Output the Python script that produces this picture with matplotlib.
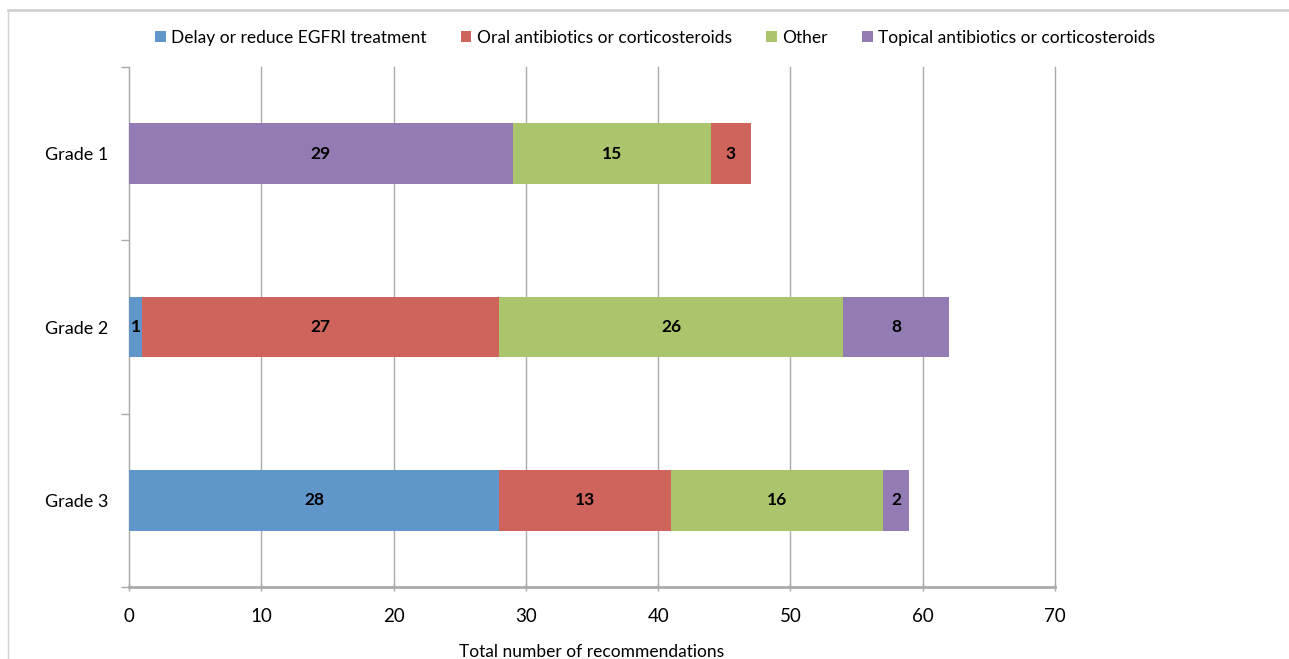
import matplotlib
matplotlib.use("Agg")
import matplotlib.pyplot as plt
from matplotlib.lines import Line2D
from matplotlib.patches import Patch

plt.rcParams['font.family'] = ['Lato', 'DejaVu Sans']

grades = ["Grade 1", "Grade 2", "Grade 3"]
series = ["Delay or reduce EGFRI treatment",
          "Oral antibiotics or corticosteroids",
          "Other",
          "Topical antibiotics or corticosteroids"]
values = {
    "Delay or reduce EGFRI treatment": [0, 1, 28],
    "Oral antibiotics or corticosteroids": [3, 27, 13],
    "Other": [15, 26, 16],
    "Topical antibiotics or corticosteroids": [29, 8, 2],
}
# stacking order of the segments within each bar
stack_order = [
    ["Topical antibiotics or corticosteroids", "Other", "Oral antibiotics or corticosteroids",
     "Delay or reduce EGFRI treatment"],
    series,
    series,
]
colors = {
    "Delay or reduce EGFRI treatment": "#6096CA",
    "Oral antibiotics or corticosteroids": "#CF645C",
    "Other": "#ABC56C",
    "Topical antibiotics or corticosteroids": "#937CB4",
}
xticks = [0, 10, 20, 30, 40, 50, 60, 70]

fig = plt.figure(figsize=(12.89, 6.59), dpi=100)
ax = fig.add_axes([129 / 1289, 1 - 587 / 659, (1055 - 129) / 1289, (587 - 67) / 659])

ypos = [2, 1, 0]
bar_h = 0.35
for gi, g in enumerate(grades):
    left = 0
    for s in stack_order[gi]:
        v = values[s][gi]
        if v == 0:
            continue
        ax.barh(ypos[gi], v, left=left, height=bar_h, color=colors[s], zorder=3)
        ax.text(left + v / 2, ypos[gi], str(v), ha="center", va="center",
                fontsize=12.5, fontweight="bold", color="black", zorder=4)
        left += v

ax.set_xlim(0, 70)
ax.set_ylim(-0.5, 2.5)
ax.set_xticks(xticks)
ax.set_xticklabels([str(t) for t in xticks], fontsize=13.5)
ax.set_yticks([-0.5, 0.5, 1.5, 2.5], minor=False)
ax.set_yticklabels([])
ax.set_yticks(ypos, minor=True)
ax.set_yticklabels(grades, minor=True, fontsize=13)
ax.tick_params(axis="y", which="major", length=6, color="#AAAAAA", width=1)
ax.tick_params(axis="y", which="minor", length=0, pad=15)
ax.tick_params(axis="x", length=6, color="#AAAAAA", width=1, direction="inout", pad=12)

ax.xaxis.grid(True, color="#AAAAAA", linewidth=1, zorder=0)
for gl in ax.get_xgridlines():
    gl.set_clip_on(False)
ax.set_axisbelow(True)
for sp in ["top", "right"]:
    ax.spines[sp].set_visible(False)
ax.spines["left"].set_color("#AAAAAA")
ax.spines["bottom"].set_color("#AAAAAA")
ax.spines["bottom"].set_linewidth(2)

ax.set_xlabel("Total number of recommendations", fontsize=12.5, labelpad=14)

handles = [Patch(facecolor=colors[s], edgecolor="none") for s in series]
fig.legend(handles, series, loc="center", bbox_to_anchor=(655 / 1289, 1 - 38 / 659),
           ncol=4, frameon=False, fontsize=12.5, handlelength=0.6, handleheight=0.6,
           handletextpad=0.3, columnspacing=2.0)

# outer frame lines
fig.add_artist(Line2D([8 / 1289, 1], [1 - 10 / 659, 1 - 10 / 659], color="#D0D4D0",
                      linewidth=2, transform=fig.transFigure))
fig.add_artist(Line2D([8 / 1289, 8 / 1289], [0, 1 - 10 / 659], color="#D0D4D0",
                      linewidth=1, transform=fig.transFigure))

fig.savefig("out.png", dpi=100)
